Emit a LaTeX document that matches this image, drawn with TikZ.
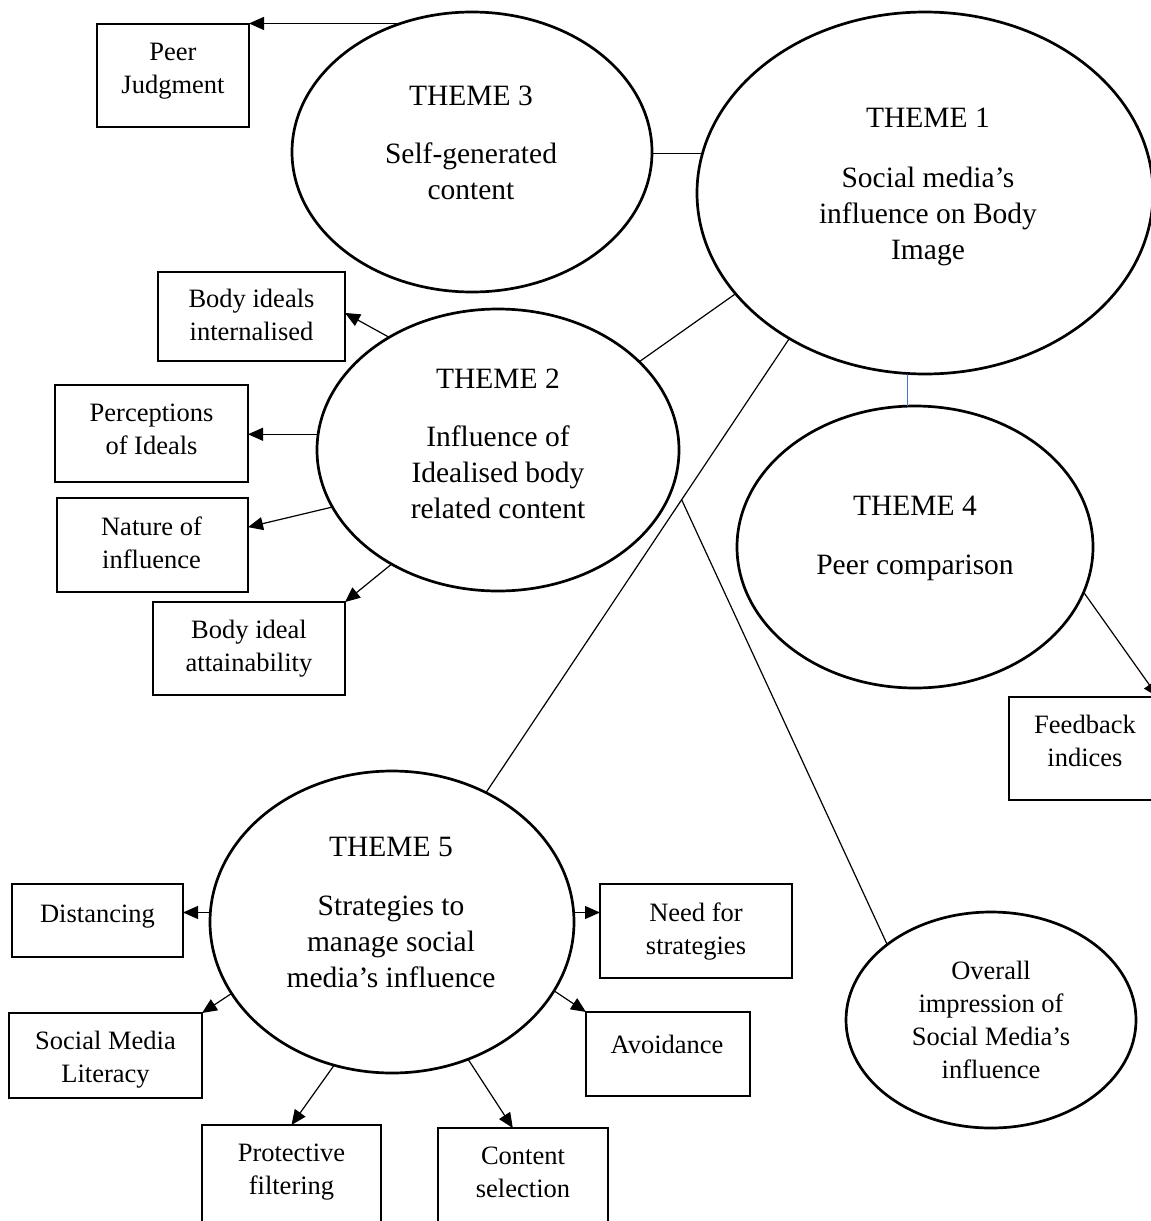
\documentclass[tikz,border=0pt]{standalone}
\usepackage{fontspec}
\setmainfont{Liberation Serif}
\usetikzlibrary{shapes.geometric,arrows.meta,calc}
\definecolor{linkblue}{RGB}{68,114,196}
\begin{document}
\begin{tikzpicture}[x=1pt,y=-1pt,
  theme/.style={ellipse,draw,line width=2.7pt,inner sep=0pt,outer sep=0pt},
  bx/.style={rectangle,draw,line width=2.7pt,inner sep=0pt,outer sep=0pt},
  big/.style={align=center,inner sep=0pt,font=\fontsize{29.5}{36}\selectfont},
  small/.style={align=center,inner sep=0pt,font=\fontsize{26.5}{33}\selectfont},
  link/.style={line width=1.2pt},
  arr/.style={line width=1.2pt,-{Triangle[length=15pt,width=13pt]}}]
\useasboundingbox (0,0) rectangle (1151,1221);
\clip (0,0) rectangle (1151,1221);

% theme ellipses
\node[theme,minimum width=360,minimum height=280] (t3) at (472,152) {};
\node[theme,minimum width=456,minimum height=362] (t1) at (925,193) {};
\node[theme,minimum width=362,minimum height=282] (t2) at (498,450) {};
\node[theme,minimum width=356,minimum height=282] (t4) at (915,547) {};
\node[theme,minimum width=364,minimum height=302] (t5) at (392,922) {};
\node[theme,minimum width=290,minimum height=216] (ov) at (991,1020) {};

\node[big] (t3txt) at (471,145) {\strut THEME 3\\[22pt]\strut Self-generated\\\strut content};
\node[big] (t1txt) at (928,186) {\strut THEME 1\\[24pt]\strut Social media’s\\\strut influence on Body\\\strut Image};
\node[big] (t2txt) at (498,446) {\strut THEME 2\\[22pt]\strut Influence of\\\strut Idealised body\\\strut related content};
\node[big] (t4txt) at (915,538) {\strut THEME 4\\[23pt]\strut Peer comparison};
\node[big] (t5txt) at (391,915) {\strut THEME 5\\[23pt]\strut Strategies to\\\strut manage social\\\strut media’s influence};
\node[small] (ovtxt) at (991,1022) {\strut Overall\\\strut impression of\\\strut Social Media’s\\\strut influence};

% sub-theme boxes
\node[bx,minimum width=152,minimum height=103] (pj) at (173,75.5) {};
\node[bx,minimum width=187,minimum height=89] (bi) at (251.5,316.5) {};
\node[bx,minimum width=193,minimum height=97] (pe) at (151.5,433.5) {};
\node[bx,minimum width=191,minimum height=94] (na) at (152.5,545) {};
\node[bx,minimum width=192,minimum height=93] (ba) at (249,648.5) {};
\node[bx,minimum width=149,minimum height=103] (fb) at (1083.5,748.5) {};
\node[bx,minimum width=171,minimum height=73] (di) at (97.5,920.5) {};
\node[bx,minimum width=192,minimum height=94] (ns) at (696,931) {};
\node[bx,minimum width=193,minimum height=85] (sl) at (105.5,1055.5) {};
\node[bx,minimum width=164,minimum height=84] (av) at (668,1054) {};
\node[bx,minimum width=179,minimum height=115] (pf) at (291.5,1182.5) {};
\node[bx,minimum width=170,minimum height=112] (cs) at (523,1184) {};

\node[small] (pjtxt) at (173,70.5) {\strut Peer\\\strut Judgment};
\node[small] (bitxt) at (251.5,317) {\strut Body ideals\\\strut internalised};
\node[small] (petxt) at (151.5,431) {\strut Perceptions\\\strut of Ideals};
\node[small] (natxt) at (151.5,545) {\strut Nature of\\\strut influence};
\node[small] (batxt) at (249,648) {\strut Body ideal\\\strut attainability};
\node[small] (fbtxt) at (1085,743) {\strut Feedback\\\strut indices};
\node[small] (ditxt) at (97.5,915.5) {\strut Distancing};
\node[small] (nstxt) at (696,931) {\strut Need for\\\strut strategies};
\node[small] (sltxt) at (105.5,1059) {\strut Social Media\\\strut Literacy};
\node[small] (avtxt) at (667,1046.5) {\strut Avoidance};
\node[small] (pftxt) at (291.5,1171) {\strut Protective\\\strut filtering};
\node[small] (cstxt) at (523,1174) {\strut Content\\\strut selection};

% links between themes
\draw[link] (t1.170) -- (t1.170 -| t3.east);
\draw[link] (t2.32) -- (t1.208);
\draw[link] (t5.54) -- (t1.227);
\coordinate (jn) at ($(t5.54)!0.645!(t1.227)$);
\draw[link] (jn) -- (ov.144);
\draw[line width=1.4pt,linkblue] (t4.93) -- (t4.93 |- t1.south);

% arrows to sub-themes
\draw[arr] (t3.119) -- (t3.119 -| pj.east);
\draw[arr] (t2.134) -- ($(bi.north east)!0.46!(bi.south east)$);
\draw[arr] (t2.175) -- (t2.175 -| pe.east);
\draw[arr] (t2.199) -- ($(na.north east)!0.31!(na.south east)$);
\draw[arr] (t2.227) -- (ba.north east);
\draw[arr] (t4.-15) -- (fb.north east);
\draw[arr] (t5.177) -- (t5.177 -| di.east);
\draw[arr] (t5.3) -- (t5.3 -| ns.west);
\draw[arr] (t5.204) -- (sl.north east);
\draw[arr] (t5.-23) -- (av.north west);
\draw[arr] (t5.248) -- (pf.north);
\draw[arr] (t5.-61) -- ($(cs.north west)!0.44!(cs.north east)$);
\end{tikzpicture}
\end{document}
